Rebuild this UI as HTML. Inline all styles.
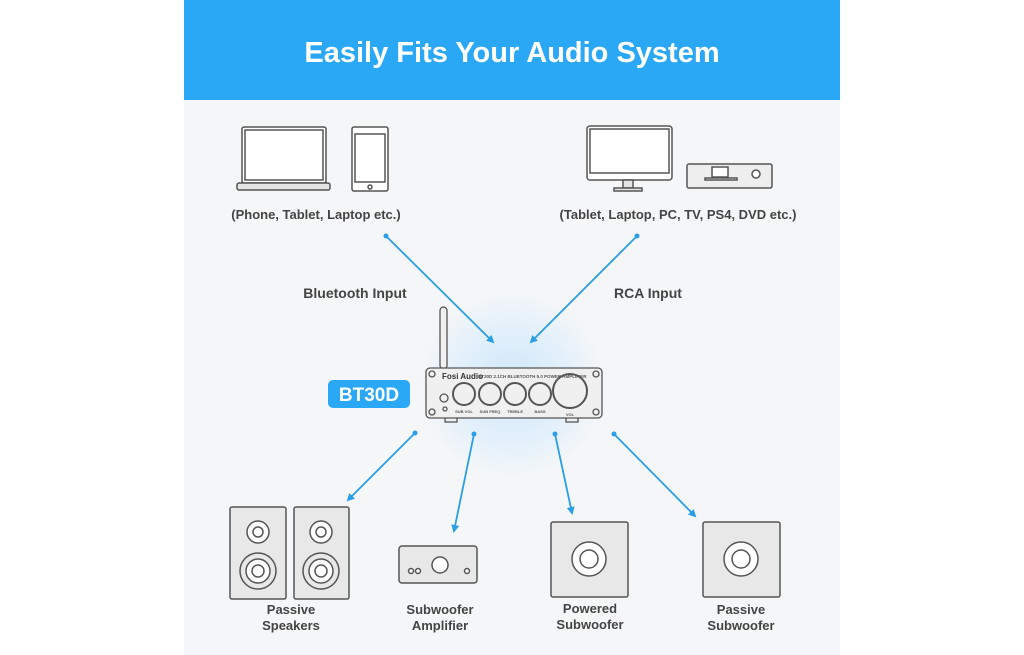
<!DOCTYPE html><html><head><style>body{margin:0;background:#fff}svg{display:block}text{font-family:"Liberation Sans",Arial,sans-serif;font-weight:bold}</style></head><body>
<svg width="1024" height="655" viewBox="0 0 1024 655" xmlns="http://www.w3.org/2000/svg">
<defs>
<radialGradient id="g" cx="50%" cy="50%" r="50%"><stop offset="0" stop-color="#cfe6fb"/><stop offset="0.6" stop-color="#e2f0fb"/><stop offset="1" stop-color="#f4f6f8"/></radialGradient>
<marker id="a" markerWidth="8" markerHeight="8" refX="6" refY="4" orient="auto" markerUnits="userSpaceOnUse"><path d="M0,0 L8,4 L0,8 Z" fill="#2a9ee6"/></marker>
</defs>
<rect x="184" y="0" width="656" height="655" fill="#f5f6f7"/>
<rect x="184" y="0" width="656" height="100" fill="#2aa8f5"/>
<text x="512" y="62" text-anchor="middle" font-size="29" fill="#fff">Easily Fits Your Audio System</text>
<g fill="#fff" stroke="#555" stroke-width="1.5">
<rect x="242" y="127" width="84" height="56" rx="2"/><rect x="245" y="130" width="78" height="50" fill="#fff"/>
<rect x="237" y="183" width="93" height="7" rx="2" fill="#e4e4e4"/>
<rect x="352" y="127" width="36" height="64" rx="2"/><rect x="355" y="134" width="30" height="48"/><circle cx="370" cy="187" r="2"/>
<rect x="587" y="126" width="85" height="54" rx="3"/><rect x="590" y="129" width="79" height="44"/>
<rect x="623" y="180" width="10" height="8" fill="#e4e4e4"/><rect x="614" y="188" width="28" height="3" fill="#e4e4e4"/>
<rect x="687" y="164" width="85" height="24" rx="2" fill="#eee"/>
<rect x="712" y="167" width="16" height="10" fill="#fff"/><rect x="705" y="178" width="32" height="2"/><circle cx="756" cy="174" r="4"/>
</g>
<text x="316" y="219" text-anchor="middle" font-size="13" fill="#444">(Phone, Tablet, Laptop etc.)</text>
<text x="678" y="219" text-anchor="middle" font-size="13" fill="#444">(Tablet, Laptop, PC, TV, PS4, DVD etc.)</text>
<circle cx="512" cy="385" r="92" fill="url(#g)"/>
<g stroke="#2a9ee6" stroke-width="1.8" fill="none" marker-end="url(#a)">
<line x1="386" y1="236" x2="493" y2="342"/><line x1="637" y1="236" x2="531" y2="342"/>
<line x1="415" y1="433" x2="348" y2="500"/><line x1="474" y1="434" x2="454" y2="531"/>
<line x1="555" y1="434" x2="572" y2="513"/><line x1="614" y1="434" x2="695" y2="516"/>
</g>
<g fill="#2a9ee6"><circle cx="386" cy="236" r="2.5"/><circle cx="637" cy="236" r="2.5"/><circle cx="415" cy="433" r="2.5"/><circle cx="474" cy="434" r="2.5"/><circle cx="555" cy="434" r="2.5"/><circle cx="614" cy="434" r="2.5"/></g>
<text x="355" y="298" text-anchor="middle" font-size="14" fill="#444">Bluetooth Input</text>
<text x="648" y="298" text-anchor="middle" font-size="14" fill="#444">RCA Input</text>
<rect x="328" y="380" width="82" height="28" rx="5" fill="#2aa8f5"/>
<text x="369" y="401" text-anchor="middle" font-size="19" fill="#fff">BT30D</text>
<g stroke="#555" stroke-width="1.3" fill="#f0f0f0">
<rect x="440" y="307" width="7" height="62" rx="3.5"/>
<rect x="445" y="417" width="12" height="5"/><rect x="566" y="417" width="12" height="5"/>
<rect x="426" y="368" width="176" height="50" rx="4"/>
<circle cx="432" cy="374" r="3"/><circle cx="596" cy="374" r="3"/><circle cx="432" cy="412" r="3"/><circle cx="596" cy="412" r="3"/>
<circle cx="444" cy="398" r="4"/><circle cx="445" cy="409" r="2"/>
<circle cx="464" cy="394" r="11" stroke-width="2"/><circle cx="490" cy="394" r="11" stroke-width="2"/><circle cx="515" cy="394" r="11" stroke-width="2"/><circle cx="540" cy="394" r="11" stroke-width="2"/><circle cx="570" cy="391" r="17" stroke-width="2"/>
</g>
<text x="442" y="379" font-size="8" fill="#333">Fosi Audio</text>
<text x="478" y="378" font-size="4.5" fill="#555">BT30D 2.1CH BLUETOOTH 5.0 POWER AMPLIFIER</text>
<g font-size="4" fill="#555" text-anchor="middle"><text x="464" y="413">SUB VOL</text><text x="490" y="413">SUB FREQ</text><text x="515" y="413">TREBLE</text><text x="540" y="413">BASS</text><text x="570" y="416">VOL</text></g>
<g stroke="#555" stroke-width="1.5" fill="#e8e8e8">
<rect x="230" y="507" width="56" height="92" rx="2"/><rect x="294" y="507" width="55" height="92" rx="2"/>
<rect x="399" y="546" width="78" height="37" rx="3"/>
<rect x="551" y="522" width="77" height="75" rx="2"/><rect x="703" y="522" width="77" height="75" rx="2"/>
</g>
<g stroke="#555" stroke-width="1.5" fill="#fff">
<circle cx="258" cy="532" r="11"/><circle cx="258" cy="532" r="5"/><circle cx="258" cy="571" r="18" fill="#e8e8e8"/><circle cx="258" cy="571" r="12"/><circle cx="258" cy="571" r="6"/>
<circle cx="321" cy="532" r="11"/><circle cx="321" cy="532" r="5"/><circle cx="321" cy="571" r="18" fill="#e8e8e8"/><circle cx="321" cy="571" r="12"/><circle cx="321" cy="571" r="6"/>
<circle cx="440" cy="565" r="8"/><circle cx="411" cy="571" r="2.5"/><circle cx="418" cy="571" r="2.5"/><circle cx="467" cy="571" r="2.5"/>
<circle cx="589" cy="559" r="17"/><circle cx="589" cy="559" r="9"/>
<circle cx="741" cy="559" r="17"/><circle cx="741" cy="559" r="9"/>
</g>
<g font-size="13" fill="#444" text-anchor="middle">
<text x="291" y="614">Passive</text><text x="291" y="630">Speakers</text>
<text x="440" y="614">Subwoofer</text><text x="440" y="630">Amplifier</text>
<text x="590" y="613">Powered</text><text x="590" y="629">Subwoofer</text>
<text x="741" y="614">Passive</text><text x="741" y="630">Subwoofer</text>
</g>
</svg></body></html>
